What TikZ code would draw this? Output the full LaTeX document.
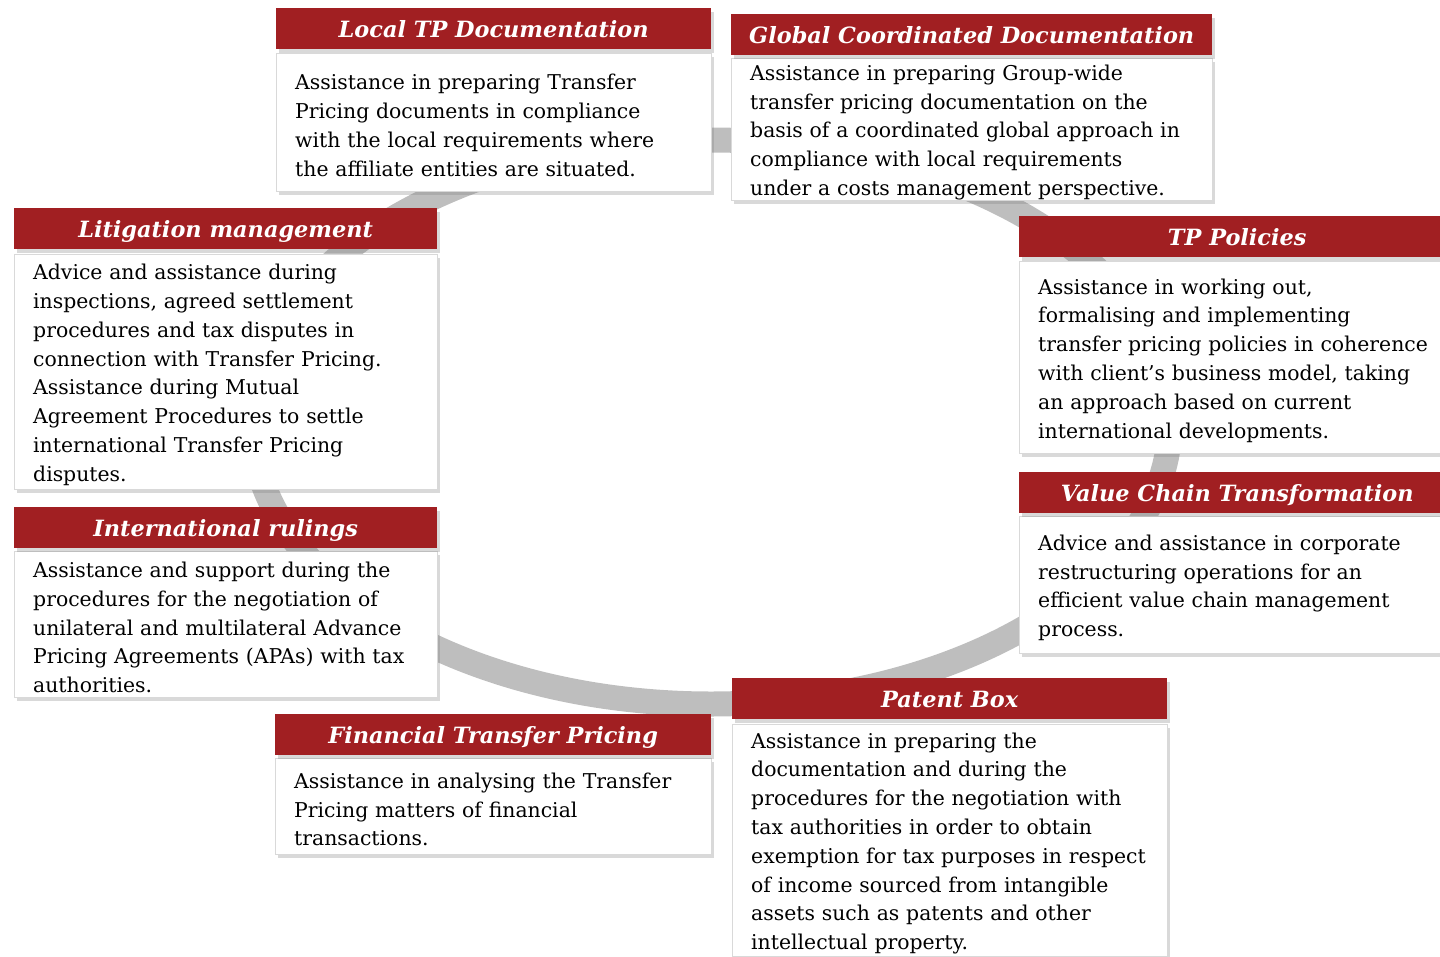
\documentclass[tikz,border=0pt]{standalone}
\usepackage{fontspec}
\setmainfont{DejaVu Serif}
\usetikzlibrary{shadows}
\definecolor{tpred}{HTML}{A11F22}
\definecolor{ringgray}{HTML}{BEBEBE}
\newcommand{\hdfont}{\fontsize{22.4}{24}\selectfont\bfseries\itshape}
\newcommand{\txfont}{\fontsize{20.4}{28.8}\selectfont}

\begin{document}
\begin{tikzpicture}[x=1pt,y=-1pt,
  hd/.style={fill=tpred, text=white, font=\hdfont, anchor=north west, minimum height=41pt, inner sep=0pt,
    text height=17pt, text depth=0pt,
    drop shadow={shadow xshift=3pt, shadow yshift=-4pt, opacity=0.3}},
  tx/.style={fill=white, draw=black!15, font=\txfont, text=black, align=left, anchor=north west,
    inner xsep=19pt, inner ysep=0pt, execute at begin node={\rule{0pt}{22pt}},
    drop shadow={shadow xshift=3pt, shadow yshift=-4pt, opacity=0.3}}]
\useasboundingbox (0,0) rectangle (1440,956);
\draw[ringgray, line width=25pt] (711,422) ellipse [x radius=459pt, y radius=282pt];

\node[tx, text width=397pt, minimum height=138pt] (localtx) at (276,53) {Assistance in preparing Transfer\\ Pricing documents in compliance\\ with the local requirements where\\ the affiliate entities are situated.};
\node[hd, minimum width=435pt] (localhd) at (276,8) {Local TP Documentation};

\node[tx, text width=443pt, minimum height=138pt] (globaltx) at (731,58) {Assistance in preparing Group-wide\\ transfer pricing documentation on the\\ basis of a coordinated global approach in\\ compliance with local requirements\\ under a costs management perspective.};
\node[hd, minimum width=481pt] (globalhd) at (731,14) {Global Coordinated Documentation};

\node[tx, text width=398pt, minimum height=192pt] (policytx) at (1019,261) {Assistance in working out,\\ formalising and implementing\\ transfer pricing policies in coherence\\ with client’s business model, taking\\ an approach based on current\\ international developments.};
\node[hd, minimum width=436pt] (policyhd) at (1019,216) {TP Policies};

\node[tx, text width=398pt, minimum height=137pt] (chaintx) at (1019,516) {Advice and assistance in corporate\\ restructuring operations for an\\ efficient value chain management\\ process.};
\node[hd, minimum width=436pt] (chainhd) at (1019,472) {Value Chain Transformation};

\node[tx, text width=397pt, minimum height=232pt] (patenttx) at (732,724) {Assistance in preparing the\\ documentation and during the\\ procedures for the negotiation with\\ tax authorities in order to obtain\\ exemption for tax purposes in respect\\ of income sourced from intangible\\ assets such as patents and other\\ intellectual property.};
\node[hd, minimum width=435pt] (patenthd) at (732,678) {Patent Box};

\node[tx, text width=398pt, minimum height=96pt] (financetx) at (275,758) {Assistance in analysing the Transfer\\ Pricing matters of financial\\ transactions.};
\node[hd, minimum width=436pt] (financehd) at (275,714) {Financial Transfer Pricing};

\node[tx, text width=385pt, minimum height=146pt] (rulingtx) at (14,551) {Assistance and support during the\\ procedures for the negotiation of\\ unilateral and multilateral Advance\\ Pricing Agreements (APAs) with tax\\ authorities.};
\node[hd, minimum width=423pt] (rulinghd) at (14,507) {International rulings};

\node[tx, text width=385pt, minimum height=235pt] (litigtx) at (14,254) {Advice and assistance during\\ inspections, agreed settlement\\ procedures and tax disputes in\\ connection with Transfer Pricing.\\ Assistance during Mutual\\ Agreement Procedures to settle\\ international Transfer Pricing\\ disputes.};
\node[hd, minimum width=423pt] (litighd) at (14,208) {Litigation management};
\end{tikzpicture}
\end{document}
